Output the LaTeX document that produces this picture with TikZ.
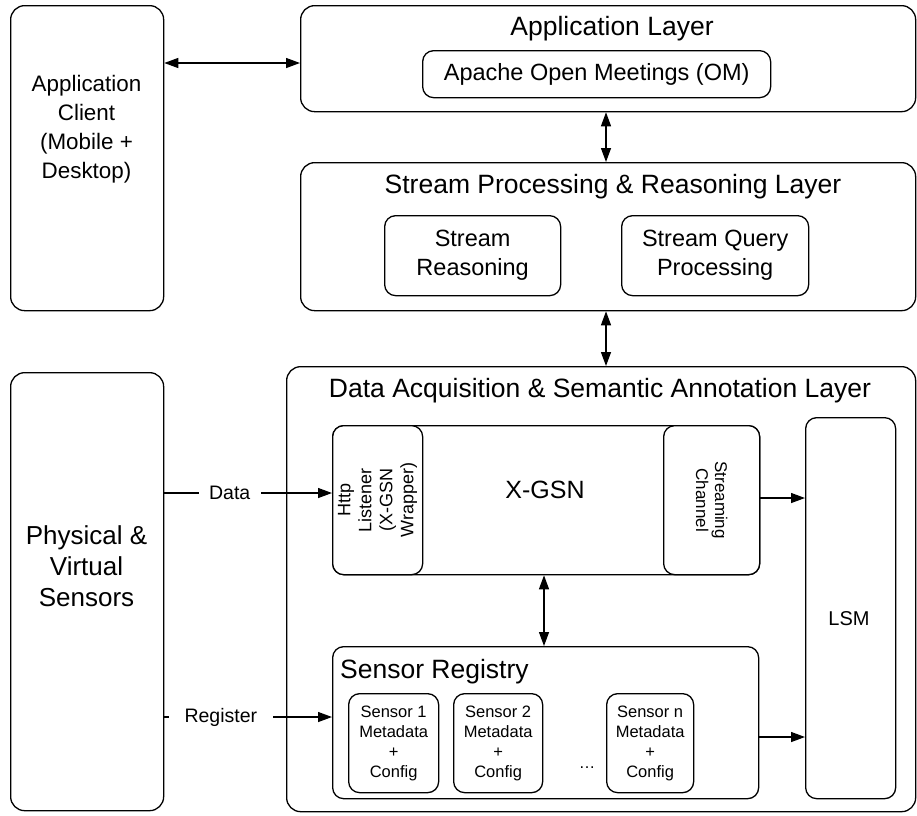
\documentclass[tikz,border=0pt]{standalone}
\usepackage{fontspec}
\setmainfont{Liberation Sans}
\usetikzlibrary{arrows.meta}
\begin{document}
\begin{tikzpicture}[x=1pt,y=-1pt,
  box/.style={draw, line width=1.3pt, rounded corners=14pt, anchor=north west, inner sep=0pt, fill=white},
  sbox/.style={box, rounded corners=11pt},
  conn/.style={line width=1.3pt, -{Triangle[length=14pt,width=10pt]}},
  dconn/.style={line width=1.3pt, {Triangle[length=14pt,width=10pt]}-{Triangle[length=14pt,width=10pt]}},
  ttl/.style={font=\fontsize{26.5}{32}\selectfont},
  inn/.style={font=\fontsize{23.5}{29}\selectfont, align=center},
  small/.style={font=\fontsize{18}{21}\selectfont, align=center},
  sens/.style={font=\fontsize{16.5}{20}\selectfont, align=center},
  lbl/.style={fill=white, font=\fontsize{19.5}{23}\selectfont, inner xsep=0pt, inner ysep=2pt}
]
\useasboundingbox (0,0) rectangle (917,815);

% left column
\node[box, minimum width=153pt, minimum height=305pt] (client) at (10,5) {};
\node[font=\fontsize{22.4}{29}\selectfont, align=center] (clienttxt) at (86.5,129) {Application\\Client\\(Mobile +\\Desktop)};
\node[box, minimum width=153pt, minimum height=438pt] (phys) at (10,372) {};
\node[font=\fontsize{26}{31}\selectfont, align=center] (phystxt) at (86.5,566) {Physical \&\\Virtual\\Sensors};

% application layer
\node[box, minimum width=615pt, minimum height=106pt] (app) at (300,5) {};
\node[ttl] (apptitle) at (612,29) {Application Layer};
\node[sbox, inn, minimum width=348pt, minimum height=47pt] (om) at (422,50) {Apache Open Meetings (OM)};

% stream layer
\node[box, minimum width=615pt, minimum height=148pt] (stream) at (300,162) {};
\node[ttl] (streamtitle) at (613,187) {Stream Processing \& Reasoning Layer};
\node[sbox, inn, minimum width=176pt, minimum height=80pt] (sreason) at (384,215) {Stream\\Reasoning};
\node[sbox, inn, minimum width=187pt, minimum height=80pt] (squery) at (621,215) {Stream Query\\Processing};

% data acquisition layer
\node[box, minimum width=629pt, minimum height=445pt] (da) at (286,366) {};
\node[ttl] (datitle) at (600,391) {Data Acquisition \& Semantic Annotation Layer};

\node[sbox, minimum width=427pt, minimum height=149pt] (xgsn) at (332,425) {};
\node[font=\fontsize{25}{30}\selectfont] (xgsntxt) at (545,490) {X-GSN};
\node[sbox, minimum width=90pt, minimum height=149pt] (http) at (332,425) {};
\node[small, rotate=90] (httptxt) at (http.center) {Http\\Listener\\(X-GSN\\Wrapper)};
\node[sbox, minimum width=96pt, minimum height=149pt] (strch) at (663,425) {};
\node[small, rotate=-90, font=\fontsize{17}{19}\selectfont] (strchtxt) at (strch.center) {Streaming\\Channel};

\node[sbox, minimum width=90pt, minimum height=381pt] (lsm) at (805,417) {};
\node[font=\fontsize{20}{24}\selectfont] (lsmtxt) at (849,619) {LSM};

\node[sbox, minimum width=426pt, minimum height=152pt] (reg) at (332,646) {};
\node[ttl, anchor=west, inner xsep=0pt] (regtitle) at (340,672) {Sensor Registry};
\node[sbox, sens, minimum width=90pt, minimum height=99pt] (s1) at (348,693) {Sensor 1\\Metadata\\+\\Config};
\node[sbox, sens, minimum width=89pt, minimum height=99pt] (s2) at (453,693) {Sensor 2\\Metadata\\+\\Config};
\node[sbox, sens, minimum width=87pt, minimum height=99pt] (sn) at (606,693) {Sensor n\\Metadata\\+\\Config};
\node[sens] (dots) at (587,768) {\ldots};

% helper coordinates
\coordinate (yclient) at (0,63);
\coordinate (xmid) at (606,0);
\coordinate (ydata) at (0,493);
\coordinate (yreg) at (0,717);
\coordinate (xx) at (544,0);
\coordinate (ystr) at (0,498);
\coordinate (yrl) at (0,737);

% connectors
\draw[dconn] (client.east |- yclient) -- (app.west |- yclient);
\draw[dconn] (app.south -| xmid) -- (stream.north -| xmid);
\draw[dconn] (stream.south -| xmid) -- (da.north -| xmid);
\draw[conn] (phys.east |- ydata) -- node[lbl, pos=0.39, minimum width=62pt] {Data} (http.west |- ydata);
\draw[conn] (phys.east |- yreg) -- node[lbl, pos=0.337, minimum width=104pt] {Register} (reg.west |- yreg);
\draw[dconn] (xgsn.south -| xx) -- (reg.north -| xx);
\draw[conn] (strch.east |- ystr) -- (lsm.west |- ystr);
\draw[conn] (reg.east |- yrl) -- (lsm.west |- yrl);
\end{tikzpicture}
\end{document}
